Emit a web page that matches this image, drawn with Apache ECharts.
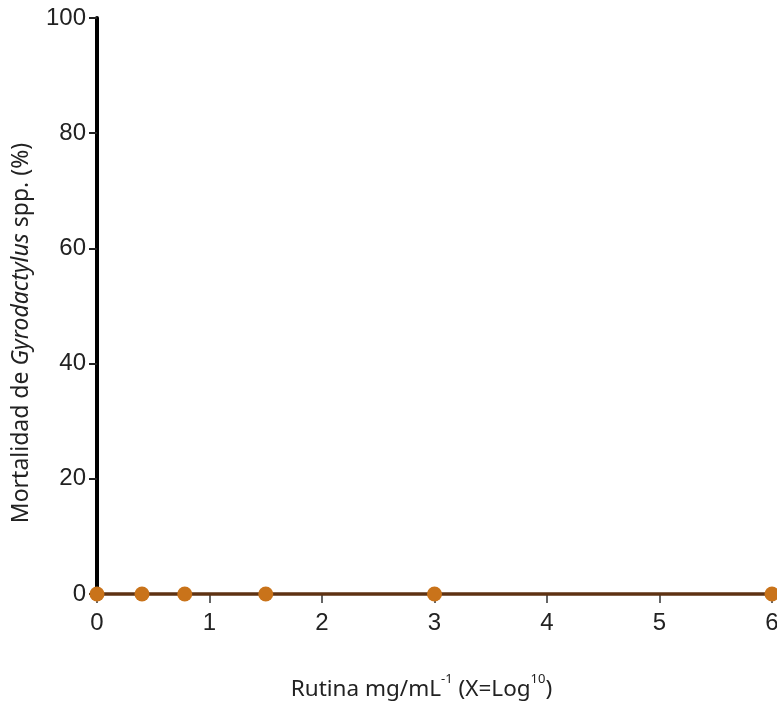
<!DOCTYPE html>
<html>
<head>
<meta charset="utf-8">
<script src="https://cdn.jsdelivr.net/npm/echarts@6/dist/echarts.min.js"></script>
<style>
  html, body { margin: 0; padding: 0; background: #fff; }
  #chart { width: 777px; height: 704px; }
</style>
</head>
<body>
<div id="chart"></div>
<script>
// concentracion (log10) y mortalidad (%)
const xValues = [0, 0.4, 0.78, 1.5, 3, 6]
const mortality = [0, 0, 0, 0, 0, 0]
const yTicks = [0, 20, 40, 60, 80, 100]
const xTicks = [0, 1, 2, 3, 4, 5, 6]

const chart = echarts.init(document.getElementById('chart'))

const option = {
  animation: false,
  grid: {
    left: 97,
    right: 5,
    top: 18,
    bottom: 110,
    containLabel: false,
    outerBoundsMode: 'none'
  },
  xAxis: {
    type: 'value',
    min: xTicks[0],
    max: xTicks[xTicks.length - 1],
    interval: 1,
    splitLine: { show: false },
    axisLine: { show: false },
    axisTick: {
      show: true,
      length: 9,
      lineStyle: { color: '#333', width: 1.5 }
    },
    axisLabel: {
      margin: 17,
      fontSize: 24,
      fontFamily: 'Liberation Sans',
      color: '#222'
    },
    name: '{t|Rutina mg/mL}{s|-1}{t| (X=Log}{s|10}{t|)}',
    nameLocation: 'middle',
    nameGap: 79,
    nameTextStyle: {
      padding: [0, 26, 0, 0],
      rich: {
        t: { fontSize: 22.5, fontFamily: 'Noto Sans', color: '#222', verticalAlign: 'bottom', lineHeight: 28 },
        s: { fontSize: 13, fontFamily: 'Noto Sans', color: '#222', verticalAlign: 'top', lineHeight: 28 }
      }
    }
  },
  yAxis: {
    type: 'value',
    min: yTicks[0],
    max: yTicks[yTicks.length - 1],
    interval: 20,
    splitLine: { show: false },
    axisLine: {
      show: true,
      lineStyle: { color: '#000', width: 4 }
    },
    axisTick: {
      show: true,
      length: 8,
      lineStyle: { color: '#222', width: 2 }
    },
    axisLabel: {
      margin: 11,
      fontSize: 24,
      fontFamily: 'Liberation Sans',
      color: '#222'
    },
    name: '{t|Mortalidad de }{i|Gyrodactylus}{t| spp. (%)}',
    nameLocation: 'middle',
    nameGap: 64,
    nameRotate: 90,
    nameTextStyle: {
      padding: [0, 54, 0, 0],
      rich: {
        t: { fontSize: 23, fontFamily: 'Noto Sans', color: '#222' },
        i: { fontSize: 23, fontFamily: 'Noto Sans', fontStyle: 'italic', color: '#222' }
      }
    }
  },
  series: [
    {
      type: 'line',
      data: xValues.map((x, i) => [x, mortality[i]]),
      symbol: 'circle',
      symbolSize: 15,
      clip: false,
      lineStyle: { color: '#5e3212', width: 3.5 },
      itemStyle: { color: '#c9731a' }
    }
  ]
}

chart.setOption(option)
</script>
</body>
</html>
